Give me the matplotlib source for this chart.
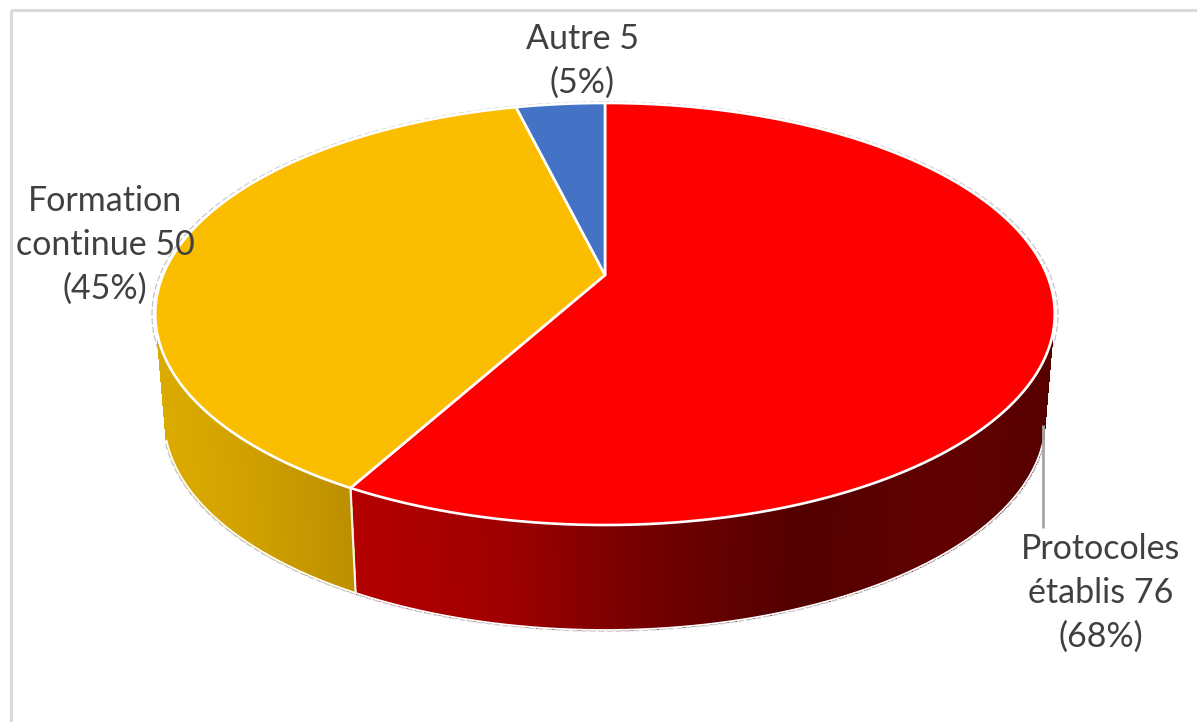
import numpy as np
import matplotlib
matplotlib.use("Agg")
import matplotlib.pyplot as plt
from matplotlib.collections import PolyCollection
from matplotlib.colors import to_rgb
from matplotlib.patches import Polygon

# Data
categories = ["Protocoles\nétablis 76\n(68%)", "Formation\ncontinue 50\n(45%)", "Autre 5\n(5%)"]
values = [76, 50, 5]
top_colors = ["#ff0000", "#fbbd00", "#4472c4"]

# Perspective projection of the disc onto the page
CX, APEX_Y, RX, RY, K = 605.0, 275.0, 442.0, 203.8, 0.1848
DEPTH, SIDE_SCALE = 105.0, 0.98
WALL_START = -0.28   # the wall shows only where cos(angle) is below this
TEXT = "#404040"
FONT = "Lato"


def project(theta, radius=1.0, drop=0.0, sx=1.0):
    u, v = radius * np.sin(theta), radius * np.cos(theta)
    w = 1 + K * v
    return CX + sx * RX * u / w, APEX_Y + drop - RY * v / w


def side_color(stops, x):
    xs = [s[0] for s in stops]
    return tuple(np.interp(x, xs, [to_rgb(s[1])[i] for s in stops]) for i in range(3))


side_stops = [
    [(350, "#b40000"), (500, "#a00000"), (620, "#7a0000"), (800, "#520000"),
     (950, "#620000"), (1055, "#560000")],
    [(155, "#dcab00"), (250, "#d0a000"), (360, "#ba8d00")],
    [(500, "#2f5597"), (610, "#2f5597")],
]

fig = plt.figure(figsize=(11.97, 7.22), dpi=100, facecolor="white")
ax = fig.add_axes([0, 0, 1, 1])
ax.set_xlim(0, 1197)
ax.set_ylim(722, 0)
ax.axis("off")

# Chart frame
ax.plot([10.5, 10.5], [722, 10], color="#d9d9d9", lw=2.2, solid_capstyle="butt")
ax.plot([10.5, 1197], [10, 10], color="#d9d9d9", lw=2.2, solid_capstyle="butt")

edges = np.concatenate([[0], np.cumsum(values) / np.sum(values) * 2 * np.pi])

# Soft outline of the top disc
t = np.linspace(0, 2 * np.pi, 721)
ax.plot(*project(t, radius=1.007), color="#c4c4c4", lw=0.9, ls=(0, (5, 2)), zorder=1)

# Side wall, one thin shaded facet per angular step
for i in range(len(values)):
    th = np.linspace(edges[i], edges[i + 1], max(int((edges[i + 1] - edges[i]) * 240), 4))
    th = th[np.cos(th) < WALL_START]
    if len(th) < 2:
        continue
    xt, yt = project(th)
    xb, yb = project(th, drop=DEPTH, sx=SIDE_SCALE)
    facets = [[(xt[j], yt[j]), (xt[j + 1], yt[j + 1]), (xb[j + 1], yb[j + 1]), (xb[j], yb[j])]
              for j in range(len(th) - 1)]
    cols = [side_color(side_stops[i], 0.5 * (xt[j] + xt[j + 1])) for j in range(len(th) - 1)]
    ax.add_collection(PolyCollection(facets, facecolors=cols, edgecolors=cols, linewidths=0.8,
                                     antialiaseds=False, zorder=2))
    xo, yo = project(th, drop=DEPTH + 1.2, sx=SIDE_SCALE * 1.003)
    ax.plot(xo, yo, color="#c8c8c8", lw=0.9, ls=(0, (5, 2)), zorder=2.5)
    ax.plot(xb, yb, color="white", lw=1.3, zorder=3)

# Seam between the two visible wall sections
seam = edges[1]
xs, ys = project(np.array([seam]))
xd, yd = project(np.array([seam]), drop=DEPTH, sx=SIDE_SCALE)
ax.plot([xs[0], xd[0]], [ys[0], yd[0]], color="#f4f0e4", lw=1.6, zorder=3)

# Top face
for i in range(len(values)):
    th = np.linspace(edges[i], edges[i + 1], max(int((edges[i + 1] - edges[i]) * 120), 8))
    xt, yt = project(th)
    ax_x, ax_y = project(np.array([0.0]), radius=0.0)
    pts = np.column_stack([np.r_[ax_x, xt], np.r_[ax_y, yt]])
    ax.add_patch(Polygon(pts, closed=True, facecolor=top_colors[i], edgecolor="white",
                         lw=1.9, joinstyle="round", zorder=4))

# Leader line for the first label
ax.plot([1042.5, 1042.5], [425, 528], color="#a6a6a6", lw=2.0, solid_capstyle="butt", zorder=5)

# Labels
label_pos = [(1101, 593), (105, 245), (582, 61)]
for label, (lx, ly) in zip(categories, label_pos):
    ax.text(lx, ly, label, ha="center", va="center", color=TEXT, fontsize=24.5, family=FONT,
            linespacing=1.46, zorder=6)

fig.savefig("out.png", dpi=100, facecolor="white")
